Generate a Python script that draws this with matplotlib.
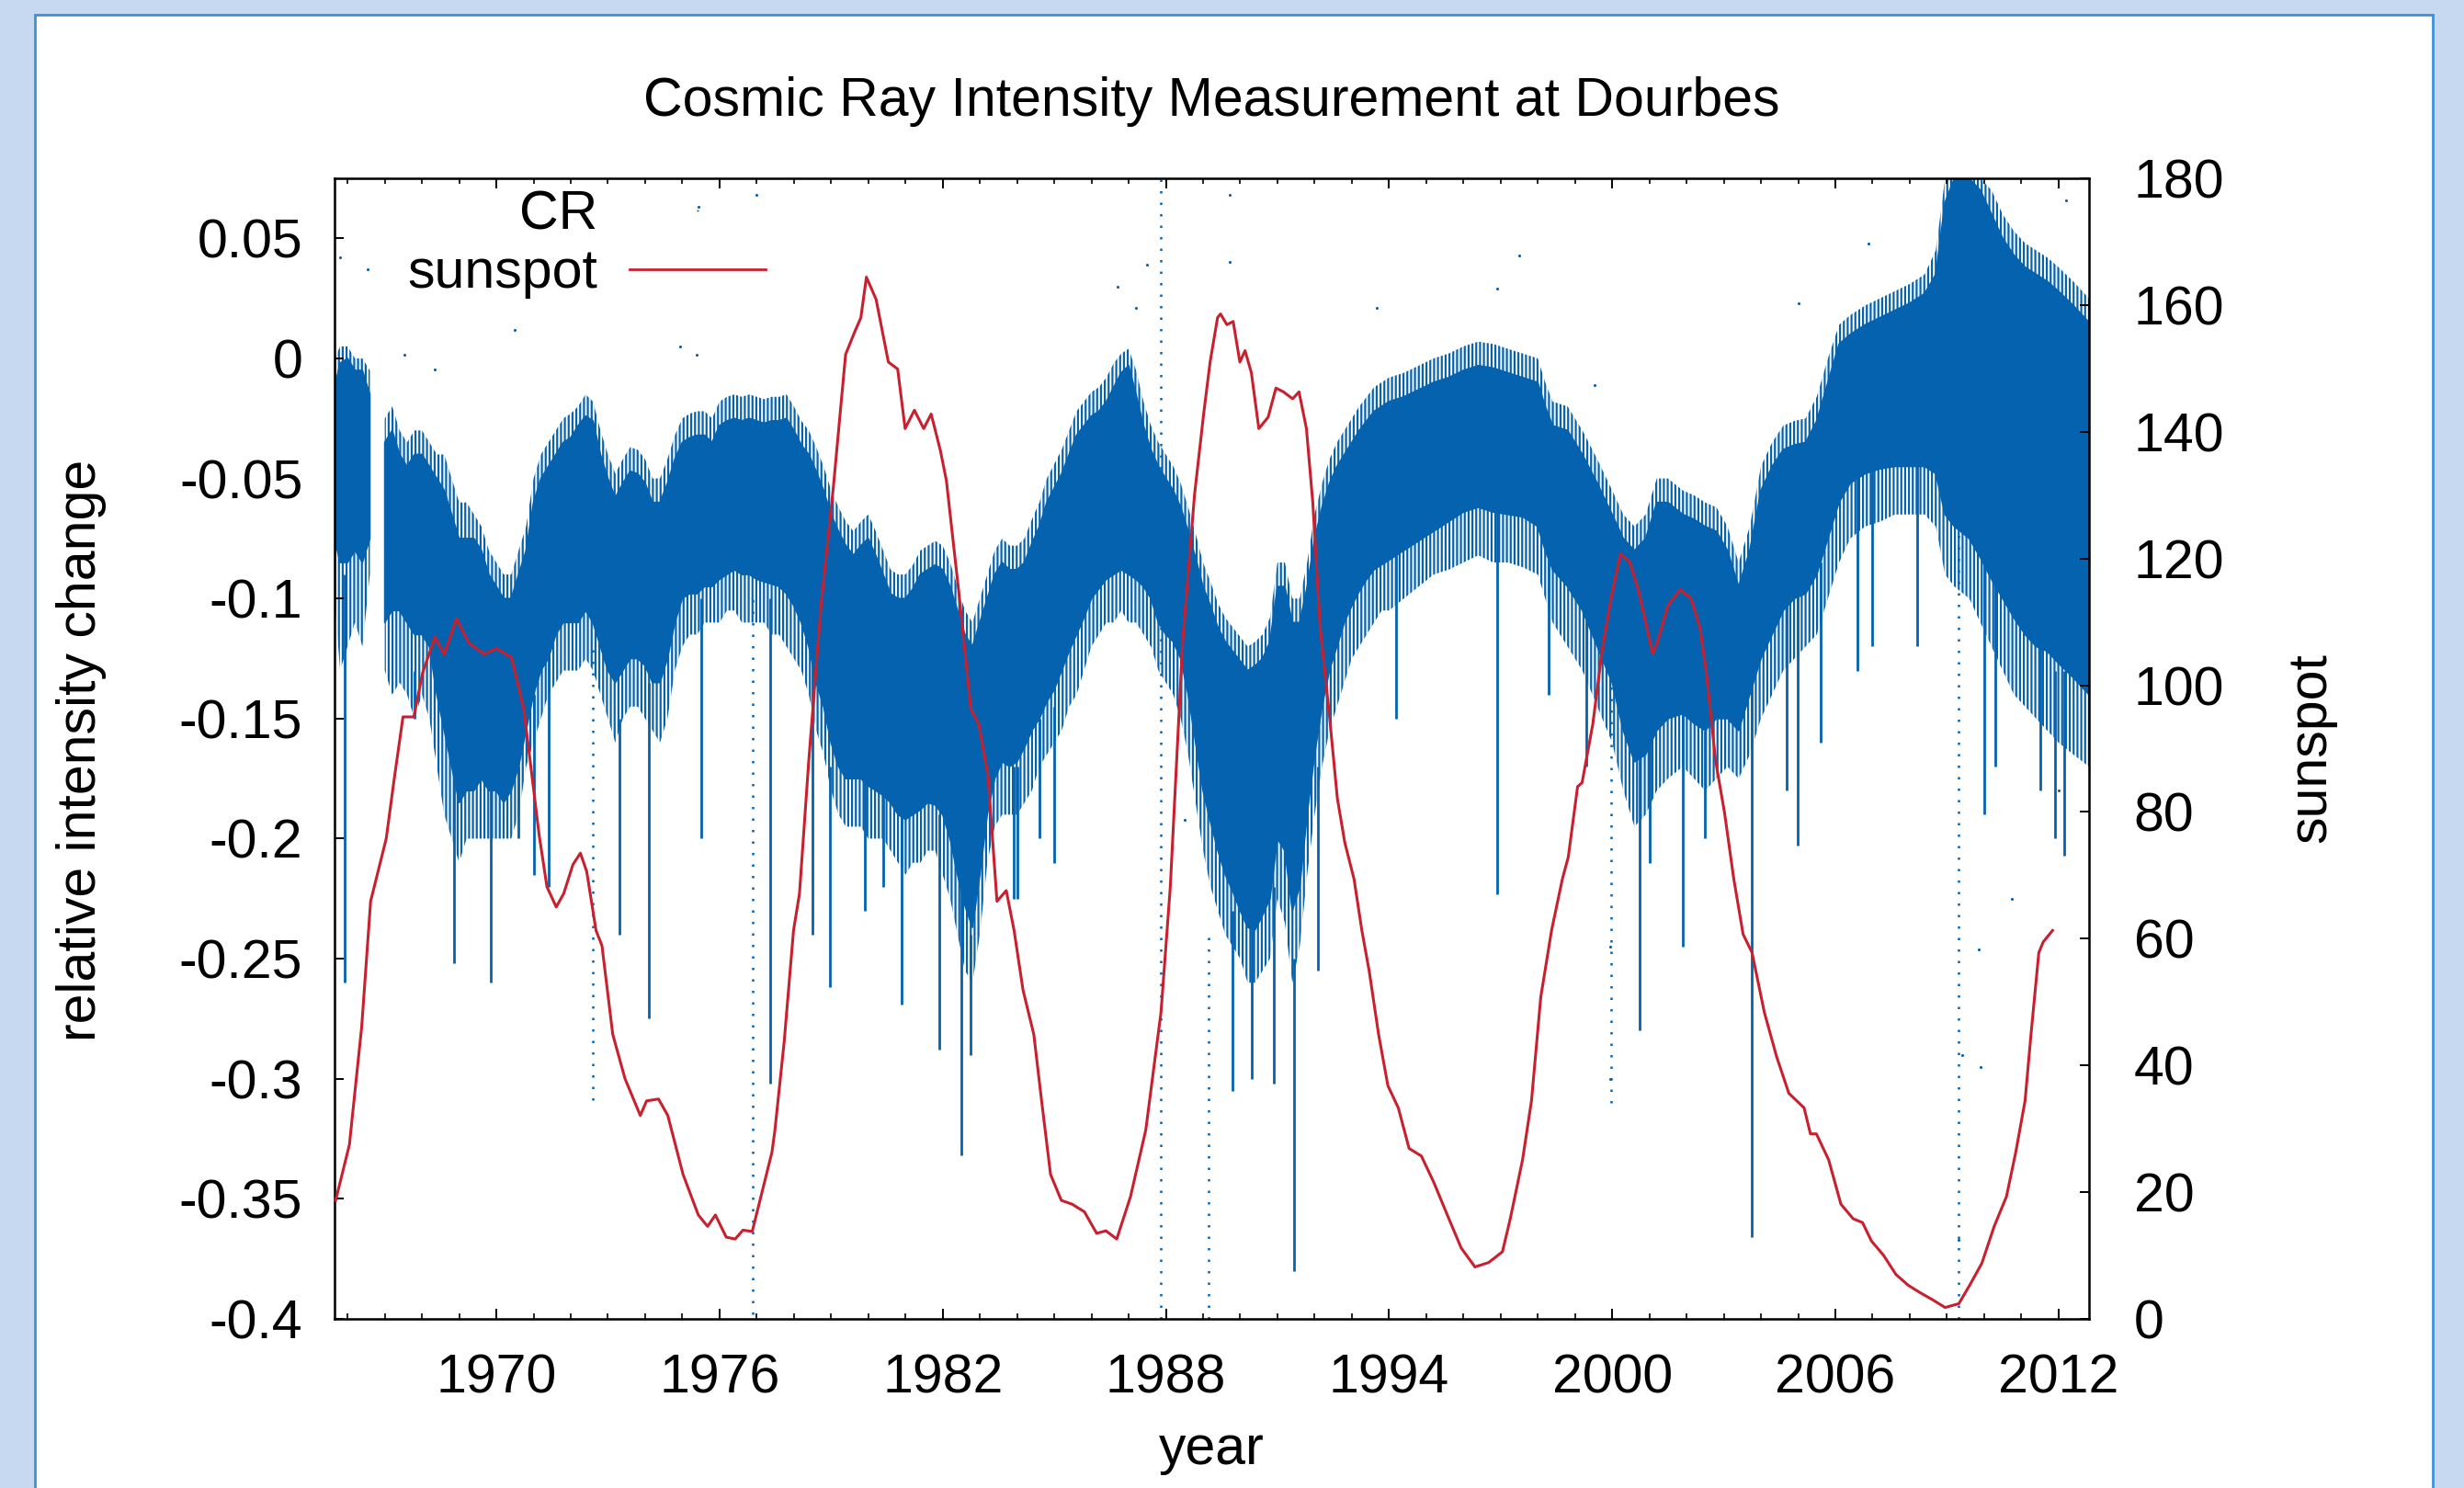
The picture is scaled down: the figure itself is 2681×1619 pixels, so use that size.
import numpy as np
import matplotlib
matplotlib.use("Agg")
import matplotlib.pyplot as plt
from matplotlib.lines import Line2D
from matplotlib.patches import Rectangle

plt.rcParams['font.family'] = ['Liberation Sans', 'DejaVu Sans']
plt.rcParams['axes.unicode_minus'] = False
plt.rcParams['hatch.linewidth'] = 1.6

BLUE = '#0562ae'
RED = '#c8202f'
FS = 42.5

# smoothed sunspot number (right axis)
ss_year = [1965.68, 1966.05, 1966.38, 1966.62, 1967.04, 1967.24, 1967.49, 1967.78, 1968.02, 1968.35,
           1968.60, 1968.93, 1969.26, 1969.67, 1970.00, 1970.41, 1970.74, 1971.15, 1971.36, 1971.61,
           1971.81, 1972.06, 1972.26, 1972.43, 1972.68, 1972.84, 1973.13, 1973.46, 1973.87, 1974.04,
           1974.36, 1974.61, 1975.02, 1975.43, 1975.68, 1975.89, 1976.18, 1976.42, 1976.63, 1976.88,
           1977.16, 1977.41, 1977.49, 1977.74, 1977.99, 1978.15, 1978.40, 1978.73, 1979.06, 1979.39,
           1979.63, 1979.80, 1979.95, 1980.21, 1980.54, 1980.79, 1980.99, 1981.24, 1981.49, 1981.69,
           1981.94, 1982.10, 1982.43, 1982.76, 1982.97, 1983.22, 1983.46, 1983.71, 1983.92, 1984.16,
           1984.45, 1984.66, 1984.90, 1985.19, 1985.48, 1985.81, 1986.14, 1986.39, 1986.68, 1987.05,
           1987.46, 1987.87, 1988.12, 1988.45, 1988.77, 1989.02, 1989.19, 1989.39, 1989.47, 1989.64,
           1989.81, 1989.99, 1990.13, 1990.30, 1990.50, 1990.75, 1990.96, 1991.16, 1991.41, 1991.58,
           1991.78, 1991.95, 1992.15, 1992.40, 1992.61, 1992.81, 1993.06, 1993.27, 1993.47, 1993.72,
           1993.97, 1994.25, 1994.54, 1994.87, 1995.20, 1995.61, 1995.94, 1996.31, 1996.68, 1997.05,
           1997.26, 1997.59, 1997.83, 1998.08, 1998.37, 1998.66, 1998.82, 1999.07, 1999.19, 1999.48,
           1999.73, 1999.97, 2000.22, 2000.47, 2000.71, 2001.09, 2001.21, 2001.50, 2001.83, 2002.12,
           2002.36, 2002.53, 2002.78, 2003.02, 2003.27, 2003.52, 2003.76, 2004.09, 2004.42, 2004.75,
           2005.16, 2005.33, 2005.49, 2005.82, 2006.15, 2006.48, 2006.73, 2006.97, 2007.30, 2007.63,
           2007.96, 2008.29, 2008.62, 2008.95, 2009.32, 2009.61, 2009.94, 2010.27, 2010.60, 2010.85,
           2011.10, 2011.26, 2011.47, 2011.59, 2011.84]
ss_value = [18.7, 27.5, 46.1, 65.9, 75.8, 84.6, 95.0, 95.0, 102.0, 107.6,
            104.9, 110.5, 106.7, 104.9, 105.8, 104.4, 96.2, 76.4, 68.2, 65.0,
            67.1, 71.7, 73.5, 70.6, 61.3, 58.9, 44.9, 37.9, 32.1, 34.4,
            34.7, 32.1, 22.8, 16.4, 14.6, 16.4, 12.9, 12.6, 14.0, 13.8,
            20.4, 26.3, 29.8, 43.8, 61.3, 67.1, 88.1, 112.6, 131.2, 152.2,
            155.7, 158.0, 164.4, 160.9, 151.0, 149.9, 140.5, 143.4, 140.5, 142.8,
            137.0, 132.3, 114.9, 96.2, 93.9, 85.7, 65.9, 67.6, 61.3, 51.9,
            44.9, 34.4, 22.8, 18.7, 18.1, 16.9, 13.5, 13.9, 12.6, 19.3,
            29.8, 48.4, 68.2, 106.7, 130.0, 143.0, 151.0, 158.0, 158.6, 156.9,
            157.4, 151.0, 152.8, 149.3, 140.5, 142.3, 146.9, 146.3, 145.2, 146.3,
            140.5, 128.9, 109.1, 95.1, 82.2, 75.2, 69.4, 61.3, 54.8, 44.9,
            36.8, 33.3, 26.9, 25.7, 21.6, 15.8, 11.2, 8.2, 8.9, 10.6,
            15.8, 25.1, 34.4, 50.8, 61.3, 69.4, 72.9, 84.0, 84.6, 93.9,
            105.5, 113.7, 120.7, 119.5, 114.9, 105.0, 106.7, 112.6, 115.1, 113.7,
            109.1, 102.1, 88.1, 79.9, 69.4, 60.7, 57.8, 48.4, 41.4, 35.6,
            33.3, 29.2, 29.2, 25.1, 18.1, 15.8, 15.2, 12.3, 10.0, 7.0,
            5.3, 4.1, 3.0, 1.8, 2.4, 5.3, 8.8, 14.6, 19.3, 26.3,
            34.4, 44.9, 57.8, 59.5, 61.3]

# cosmic ray cloud (left axis): dense core edges and sparse fringe edges
cr_year = [1965.65, 1965.8, 1966.0, 1966.2, 1966.4, 1966.6, 1966.61, 1966.99, 1967.0, 1967.2,
           1967.4, 1967.6, 1967.8, 1968.0, 1968.2, 1968.4, 1968.6, 1968.8, 1969.0, 1969.2,
           1969.4, 1969.6, 1969.8, 1970.0, 1970.2, 1970.4, 1970.6, 1970.8, 1971.0, 1971.2,
           1971.4, 1971.6, 1971.8, 1972.0, 1972.2, 1972.4, 1972.6, 1972.8, 1973.0, 1973.2,
           1973.4, 1973.6, 1973.8, 1974.0, 1974.2, 1974.4, 1974.6, 1974.8, 1975.0, 1975.2,
           1975.4, 1975.6, 1975.8, 1976.0, 1976.2, 1976.4, 1976.6, 1976.8, 1977.0, 1977.2,
           1977.4, 1977.6, 1977.8, 1978.0, 1978.2, 1978.4, 1978.6, 1978.8, 1979.0, 1979.2,
           1979.4, 1979.6, 1979.8, 1980.0, 1980.2, 1980.4, 1980.6, 1980.8, 1981.0, 1981.2,
           1981.4, 1981.6, 1981.8, 1982.0, 1982.2, 1982.4, 1982.6, 1982.8, 1983.0, 1983.2,
           1983.4, 1983.6, 1983.8, 1984.0, 1984.2, 1984.4, 1984.6, 1984.8, 1985.0, 1985.2,
           1985.4, 1985.6, 1985.8, 1986.0, 1986.2, 1986.4, 1986.6, 1986.8, 1987.0, 1987.2,
           1987.4, 1987.6, 1987.8, 1988.0, 1988.2, 1988.4, 1988.6, 1988.8, 1989.0, 1989.2,
           1989.4, 1989.6, 1989.8, 1990.0, 1990.2, 1990.4, 1990.6, 1990.8, 1991.0, 1991.2,
           1991.4, 1991.6, 1991.8, 1992.0, 1992.2, 1992.4, 1992.6, 1992.8, 1993.0, 1993.2,
           1993.4, 1993.6, 1993.8, 1994.0, 1994.4, 1994.8, 1995.2, 1995.6, 1996.0, 1996.4,
           1996.8, 1997.2, 1997.6, 1998.0, 1998.2, 1998.4, 1998.8, 1999.2, 1999.6, 2000.0,
           2000.3, 2000.6, 2000.9, 2001.2, 2001.5, 2001.9, 2002.2, 2002.5, 2002.8, 2003.1,
           2003.4, 2003.7, 2004.0, 2004.3, 2004.6, 2004.9, 2005.2, 2005.5, 2005.8, 2006.1,
           2006.4, 2006.8, 2007.2, 2007.6, 2008.0, 2008.4, 2008.7, 2008.95, 2009.2, 2009.6,
           2009.9, 2010.2, 2010.5, 2010.8, 2011.1, 2011.4, 2011.7, 2012.0, 2012.4, 2012.82]
cr_top = [-0.012, -0.002, 0.0, -0.005, -0.005, -0.015, np.nan, np.nan, -0.035, -0.03,
          -0.04, -0.045, -0.04, -0.04, -0.045, -0.05, -0.055, -0.065, -0.075, -0.075,
          -0.075, -0.08, -0.09, -0.095, -0.1, -0.1, -0.09, -0.08, -0.06, -0.05,
          -0.045, -0.04, -0.035, -0.033, -0.028, -0.024, -0.026, -0.04, -0.05, -0.058,
          -0.052, -0.047, -0.048, -0.052, -0.06, -0.06, -0.052, -0.042, -0.035, -0.033,
          -0.032, -0.032, -0.035, -0.028, -0.026, -0.025, -0.026, -0.025, -0.026, -0.027,
          -0.026, -0.026, -0.025, -0.03, -0.036, -0.04, -0.047, -0.055, -0.065, -0.072,
          -0.078, -0.082, -0.078, -0.075, -0.082, -0.09, -0.098, -0.1, -0.1, -0.096,
          -0.09, -0.088, -0.086, -0.088, -0.095, -0.105, -0.115, -0.12, -0.11, -0.1,
          -0.09, -0.085, -0.088, -0.088, -0.085, -0.077, -0.07, -0.06, -0.054, -0.048,
          -0.04, -0.032, -0.028, -0.024, -0.022, -0.018, -0.012, -0.006, -0.003, -0.015,
          -0.028, -0.038, -0.045, -0.05, -0.055, -0.062, -0.072, -0.083, -0.095, -0.103,
          -0.112, -0.118, -0.122, -0.126, -0.13, -0.128, -0.125, -0.118, -0.095, -0.095,
          -0.11, -0.11, -0.095, -0.075, -0.062, -0.052, -0.045, -0.04, -0.035, -0.03,
          -0.026, -0.022, -0.02, -0.018, -0.016, -0.013, -0.01, -0.008, -0.005, -0.003,
          -0.004, -0.006, -0.008, -0.01, -0.02, -0.028, -0.03, -0.04, -0.052, -0.065,
          -0.075, -0.08, -0.075, -0.06, -0.06, -0.065, -0.067, -0.07, -0.072, -0.08,
          -0.095, -0.08, -0.055, -0.045, -0.038, -0.036, -0.035, -0.026, -0.01, 0.006,
          0.01, 0.014, 0.017, 0.02, 0.023, 0.027, 0.035, 0.065, 0.075, 0.075,
          0.07, 0.06, 0.05, 0.043, 0.038, 0.035, 0.032, 0.028, 0.022, 0.015]
cr_bottom = [-0.075, -0.085, -0.085, -0.08, -0.085, -0.075, np.nan, np.nan, -0.11, -0.105,
             -0.105, -0.11, -0.115, -0.115, -0.12, -0.14, -0.155, -0.17, -0.185, -0.18,
             -0.18, -0.175, -0.18, -0.18, -0.185, -0.18, -0.17, -0.155, -0.14, -0.13,
             -0.125, -0.115, -0.11, -0.11, -0.11, -0.105, -0.11, -0.12, -0.13, -0.135,
             -0.13, -0.125, -0.125, -0.128, -0.135, -0.135, -0.125, -0.11, -0.1, -0.098,
             -0.098, -0.095, -0.095, -0.092, -0.09, -0.088, -0.09, -0.09, -0.092, -0.093,
             -0.094, -0.095, -0.098, -0.103, -0.11, -0.12, -0.135, -0.145, -0.16, -0.17,
             -0.175, -0.175, -0.175, -0.178, -0.18, -0.182, -0.185, -0.19, -0.192, -0.19,
             -0.188, -0.185, -0.186, -0.19, -0.2, -0.215, -0.228, -0.237, -0.215, -0.19,
             -0.175, -0.168, -0.17, -0.168, -0.162, -0.155, -0.15, -0.143, -0.138, -0.13,
             -0.122, -0.115, -0.108, -0.1, -0.096, -0.092, -0.09, -0.088, -0.09, -0.092,
             -0.095, -0.1, -0.11, -0.115, -0.118, -0.125, -0.14, -0.16, -0.18, -0.193,
             -0.205, -0.215, -0.222, -0.23, -0.237, -0.238, -0.232, -0.225, -0.2, -0.205,
             -0.23, -0.22, -0.19, -0.165, -0.145, -0.13, -0.12, -0.11, -0.103, -0.097,
             -0.092, -0.088, -0.086, -0.084, -0.08, -0.076, -0.072, -0.068, -0.064, -0.062,
             -0.064, -0.065, -0.066, -0.07, -0.08, -0.088, -0.095, -0.105, -0.12, -0.135,
             -0.155, -0.168, -0.165, -0.155, -0.15, -0.148, -0.152, -0.155, -0.15, -0.15,
             -0.155, -0.14, -0.125, -0.115, -0.105, -0.1, -0.098, -0.09, -0.075, -0.06,
             -0.052, -0.048, -0.046, -0.045, -0.045, -0.045, -0.048, -0.065, -0.07, -0.075,
             -0.083, -0.092, -0.1, -0.108, -0.115, -0.12, -0.122, -0.127, -0.133, -0.14]
cr_fringe_hi = [0.0, 0.005, 0.005, 0.0, 0.0, -0.005, np.nan, np.nan, -0.025, -0.02,
                -0.03, -0.035, -0.03, -0.03, -0.035, -0.04, -0.04, -0.05, -0.06, -0.06,
                -0.065, -0.07, -0.08, -0.085, -0.09, -0.09, -0.08, -0.07, -0.05, -0.04,
                -0.035, -0.03, -0.025, -0.023, -0.02, -0.015, -0.018, -0.03, -0.04, -0.048,
                -0.042, -0.037, -0.038, -0.042, -0.05, -0.05, -0.042, -0.032, -0.025, -0.023,
                -0.022, -0.022, -0.025, -0.018, -0.016, -0.015, -0.016, -0.015, -0.016, -0.017,
                -0.016, -0.016, -0.015, -0.02, -0.026, -0.03, -0.037, -0.045, -0.055, -0.062,
                -0.068, -0.072, -0.068, -0.065, -0.072, -0.08, -0.088, -0.09, -0.09, -0.086,
                -0.08, -0.078, -0.076, -0.078, -0.085, -0.095, -0.105, -0.11, -0.1, -0.09,
                -0.08, -0.075, -0.078, -0.078, -0.075, -0.067, -0.06, -0.05, -0.044, -0.038,
                -0.03, -0.022, -0.018, -0.014, -0.012, -0.008, -0.002, 0.002, 0.004, -0.005,
                -0.018, -0.028, -0.035, -0.04, -0.045, -0.052, -0.062, -0.073, -0.085, -0.093,
                -0.102, -0.108, -0.112, -0.116, -0.12, -0.118, -0.115, -0.108, -0.085, -0.085,
                -0.1, -0.1, -0.085, -0.065, -0.052, -0.042, -0.035, -0.03, -0.025, -0.02,
                -0.016, -0.012, -0.01, -0.008, -0.006, -0.003, 0.0, 0.002, 0.005, 0.007,
                0.006, 0.004, 0.002, 0.0, -0.01, -0.018, -0.02, -0.03, -0.042, -0.055,
                -0.065, -0.07, -0.065, -0.05, -0.05, -0.055, -0.057, -0.06, -0.062, -0.07,
                -0.085, -0.07, -0.045, -0.035, -0.028, -0.026, -0.025, -0.016, 0.0, 0.014,
                0.018, 0.022, 0.025, 0.028, 0.031, 0.035, 0.045, 0.075, 0.075, 0.075,
                0.075, 0.07, 0.06, 0.053, 0.048, 0.045, 0.042, 0.038, 0.032, 0.025]
cr_fringe_lo = [-0.1, -0.13, -0.12, -0.11, -0.12, -0.09, np.nan, np.nan, -0.13, -0.14,
                -0.135, -0.14, -0.15, -0.14, -0.15, -0.17, -0.19, -0.2, -0.21, -0.2,
                -0.2, -0.2, -0.2, -0.2, -0.2, -0.2, -0.19, -0.17, -0.16, -0.15,
                -0.14, -0.135, -0.13, -0.13, -0.13, -0.125, -0.13, -0.14, -0.15, -0.16,
                -0.15, -0.145, -0.145, -0.15, -0.155, -0.16, -0.15, -0.13, -0.12, -0.115,
                -0.115, -0.11, -0.11, -0.11, -0.105, -0.105, -0.11, -0.11, -0.11, -0.11,
                -0.115, -0.115, -0.12, -0.125, -0.13, -0.14, -0.155, -0.165, -0.18, -0.19,
                -0.195, -0.195, -0.195, -0.2, -0.2, -0.2, -0.205, -0.21, -0.215, -0.21,
                -0.21, -0.205, -0.205, -0.215, -0.225, -0.24, -0.255, -0.26, -0.24, -0.21,
                -0.195, -0.19, -0.19, -0.19, -0.185, -0.18, -0.17, -0.165, -0.16, -0.155,
                -0.145, -0.14, -0.13, -0.12, -0.115, -0.11, -0.11, -0.105, -0.11, -0.11,
                -0.115, -0.12, -0.13, -0.135, -0.14, -0.15, -0.165, -0.185, -0.205, -0.22,
                -0.23, -0.24, -0.245, -0.25, -0.26, -0.26, -0.255, -0.25, -0.225, -0.235,
                -0.26, -0.245, -0.215, -0.19, -0.17, -0.155, -0.145, -0.135, -0.125, -0.12,
                -0.115, -0.11, -0.105, -0.105, -0.1, -0.095, -0.09, -0.088, -0.085, -0.082,
                -0.085, -0.085, -0.087, -0.09, -0.1, -0.11, -0.12, -0.13, -0.145, -0.16,
                -0.18, -0.195, -0.19, -0.18, -0.175, -0.17, -0.175, -0.18, -0.175, -0.17,
                -0.175, -0.165, -0.15, -0.14, -0.13, -0.125, -0.12, -0.115, -0.1, -0.085,
                -0.075, -0.07, -0.068, -0.065, -0.065, -0.065, -0.07, -0.09, -0.095, -0.1,
                -0.11, -0.12, -0.13, -0.14, -0.145, -0.15, -0.155, -0.16, -0.165, -0.17]

# isolated downward spikes (Forbush decreases etc.)
spike_year = [1965.92, 1967.8, 1968.85, 1969.84, 1970.6, 1971.0, 1971.4, 1973.3, 1974.1, 1975.5,
              1977.36, 1978.5, 1978.96, 1979.9, 1980.4, 1980.9, 1981.9, 1982.5, 1982.75, 1983.9,
              1984.0, 1984.6, 1985.0, 1989.8, 1990.3, 1990.9, 1991.45, 1992.1, 1994.2, 1996.9,
              1998.3, 1999.3, 2000.73, 2001.0, 2001.9, 2002.5, 2003.75, 2004.7, 2004.99, 2005.6,
              2006.6, 2007.0, 2008.2, 2010.0, 2010.3, 2011.5, 2011.9, 2012.16]
spike_top = [-0.09, -0.13, -0.17, -0.17, -0.17, -0.14, -0.125, -0.15, -0.135, -0.1,
             -0.1, -0.12, -0.17, -0.175, -0.18, -0.19, -0.19, -0.22, -0.24, -0.17,
             -0.17, -0.15, -0.145, -0.23, -0.237, -0.22, -0.25, -0.17, -0.08, -0.06,
             -0.075, -0.1, -0.16, -0.16, -0.14, -0.155, -0.13, -0.1, -0.095, -0.085,
             -0.04, -0.045, -0.025, -0.085, -0.09, -0.12, -0.13, -0.13]
spike_bottom = [-0.26, -0.15, -0.252, -0.26, -0.2, -0.215, -0.22, -0.24, -0.275, -0.2,
                -0.302, -0.24, -0.262, -0.23, -0.22, -0.269, -0.288, -0.332, -0.29, -0.225,
                -0.225, -0.2, -0.21, -0.305, -0.3, -0.302, -0.38, -0.255, -0.15, -0.223,
                -0.14, -0.17, -0.28, -0.21, -0.245, -0.2, -0.366, -0.18, -0.203, -0.16,
                -0.13, -0.12, -0.12, -0.19, -0.17, -0.18, -0.2, -0.207]

# dotted columns of sparse points
dcol_year = [1972.59, 1976.9, 1987.87, 1989.14, 1999.96, 2009.3]
dcol_top = [-0.12, -0.1, 0.075, -0.24, -0.13, -0.06]
dcol_bottom = [-0.309, -0.398, -0.4, -0.4, -0.31, -0.4]

# scattered single points
dot_year = [1975.43, 1976.99, 1975.39, 1974.95, 1967.53, 1965.8, 1966.54, 1970.49, 1968.35, 1986.7,
            1987.2, 1987.5, 1988.5, 1989.72, 1989.72, 1993.68, 1997.5, 1996.9, 1999.53, 1999.94,
            1999.94, 2006.9, 2005.0, 2012.2, 2009.85, 2010.75, 2009.4, 2009.3, 2009.9, 2012.0]
dot_value = [0.063, 0.068, 0.0016, 0.005, 0.0016, 0.042, 0.037, 0.012, -0.0046, 0.030,
             0.021, 0.039, -0.192, 0.040, 0.068, 0.021, 0.043, 0.029, -0.011, -0.245,
             -0.30, 0.048, 0.023, 0.066, -0.246, -0.225, -0.29, -0.367, -0.295, -0.18]

x_ticks = [1970, 1976, 1982, 1988, 1994, 2000, 2006, 2012]
y_ticks = [-0.4, -0.35, -0.3, -0.25, -0.2, -0.15, -0.1, -0.05, 0, 0.05]
y_tick_labels = ['-0.4', '-0.35', '-0.3', '-0.25', '-0.2', '-0.15', '-0.1', '-0.05', '0', '0.05']
y2_ticks = [0, 20, 40, 60, 80, 100, 120, 140, 160, 180]

W, H = 2681, 1619
fig = plt.figure(figsize=(W / 100, H / 100), dpi=100)
fig.patch.set_facecolor('#c6d9f0')
fig.patches.append(Rectangle((38 / W, -0.01), (2647 - 38) / W, 1.0 - 16 / H + 0.01,
                             transform=fig.transFigure, facecolor='white',
                             edgecolor='#3d8fe0', lw=2, zorder=-10))

ax = fig.add_axes([364 / W, 1 - 1435 / H, (2273 - 364) / W, (1435 - 194) / H])
ax.set_facecolor('white')
# sparse fringe as vertical streaks, dense core solid
ax.fill_between(cr_year, cr_fringe_lo, cr_fringe_hi, facecolor='none', edgecolor=BLUE,
                hatch='||||', lw=0, zorder=1.5)
ax.fill_between(cr_year, cr_bottom, cr_top, color=BLUE, lw=1.2, edgecolor=BLUE, zorder=2)
ax.vlines(spike_year, spike_bottom, spike_top, color=BLUE, lw=2.0, zorder=2)
ax.vlines(dcol_year, dcol_bottom, dcol_top, color=BLUE, lw=1.8, linestyles=(0, (1, 4)), zorder=2)
ax.scatter(dot_year, dot_value, s=5, color=BLUE, lw=0, zorder=2)

ax.set_xlim(1965.65, 2012.82)
ax.set_ylim(-0.4, 0.075)
ax.set_xticks(x_ticks)
ax.set_xticks(np.arange(1966, 2013), minor=True)
ax.set_yticks(y_ticks, labels=y_tick_labels)
ax.tick_params(axis='x', which='both', direction='in', top=True, bottom=True,
               labelsize=FS, pad=27)
ax.tick_params(axis='x', which='major', length=8, width=1.4)
ax.tick_params(axis='x', which='minor', length=4, width=1.2)
ax.tick_params(axis='y', direction='in', left=True, right=False, length=7, width=1.4,
               labelsize=FS, pad=25)
for s in ax.spines.values():
    s.set_linewidth(1.8)

ax2 = ax.twinx()
ax2.plot(ss_year, ss_value, color=RED, lw=2.2, zorder=3)
ax2.set_ylim(0, 180)
ax2.set_yticks(y2_ticks)
ax2.tick_params(axis='y', direction='in', right=True, length=7, width=1.4,
                labelsize=FS, pad=35)
ax2.set_xlim(1965.65, 2012.82)

handles = [Line2D([], [], marker='.', markersize=1, linestyle='none', color=BLUE),
           Line2D([], [], color=RED, lw=2.0)]
ax2.legend(handles, ['CR', 'sunspot'], loc='upper right', bbox_to_anchor=(0.2457, 0.99),
           frameon=False, fontsize=FS, markerfirst=False, handlelength=2.5,
           handletextpad=0.6, labelspacing=0.15, borderpad=0, borderaxespad=0)

fig.text(0.4916, 1 - 126 / H, 'Cosmic Ray Intensity Measurement at Dourbes',
         ha='center', va='baseline', fontsize=FS)
fig.text(0.4916, 1 - 1593 / H, 'year', ha='center', va='baseline', fontsize=FS)
fig.text(89 / W, 1 - 816 / H, 'relative intensity change', rotation=90,
         ha='center', va='center', fontsize=FS)
fig.text(2515 / W, 1 - 814 / H, 'sunspot', rotation=90,
         ha='center', va='center', fontsize=FS)

fig.savefig('out.png', dpi=100)
